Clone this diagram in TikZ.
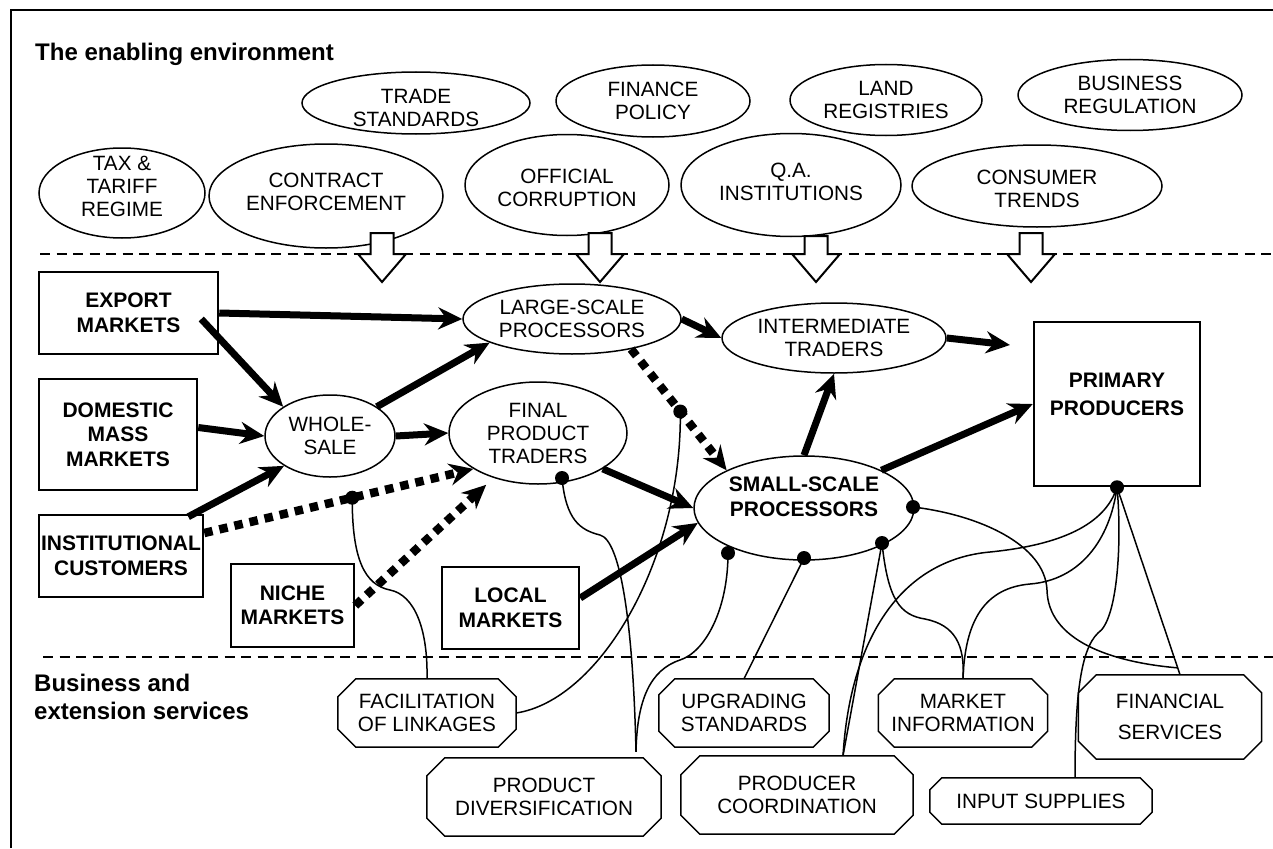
\documentclass[tikz,border=0pt]{standalone}
\usepackage{fontspec}
\setmainfont{Liberation Sans}
\usetikzlibrary{shapes.geometric, arrows.meta}
\newcommand\regfont{\fontsize{20.7}{23}\selectfont}
\newcommand\bldfont{\fontsize{21}{24.5}\selectfont\bfseries}
\newcommand\ttlfont{\fontsize{24}{28}\selectfont\bfseries}
% octagonal service box: [extra style]{name}{x}{y}{w}{h}{chamfer}{text}
\newcommand\svcbox[8][]{%
  \node[svc, minimum width=#5pt, minimum height=#6pt, #1] (#2) at (#3,#4) {#8};
  \draw[svcline] ([xshift=#7pt]#2.north west) -- ([xshift=-#7pt]#2.north east)
     -- ([yshift=-#7pt]#2.north east) -- ([yshift=#7pt]#2.south east)
     -- ([xshift=-#7pt]#2.south east) -- ([xshift=#7pt]#2.south west)
     -- ([yshift=#7pt]#2.south west) -- ([yshift=-#7pt]#2.north west) -- cycle;}
% hollow block arrow: {x}{top}
\newcommand\blockarr[2]{%
  \draw[blockarrow] (#1-11.5,#2) -- (#1-11.5,254) -- (#1-24,254) -- (#1,282)
     -- (#1+24,254) -- (#1+11.5,254) -- (#1+11.5,#2) -- cycle;}
\tikzset{
  ell/.style={ellipse, draw, line width=1.5pt, inner sep=0pt, align=center, font=\regfont},
  mbox/.style={rectangle, draw, line width=2.5pt, inner sep=0pt, align=center, font=\bldfont},
  svc/.style={rectangle, inner sep=0pt, align=center, font=\regfont},
  svcline/.style={line width=1.5pt, line join=miter},
  lbl/.style={inner sep=0pt, align=center, font=\regfont},
  blbl/.style={inner sep=0pt, align=center, font=\bldfont},
  thickarr/.style={line width=7pt, -{Stealth[length=24pt, width=22pt, inset=8pt]}},
  dotarr/.style={line width=8.5pt, dash pattern=on 8.5pt off 7pt, -{Stealth[length=24pt, width=22pt, inset=8pt]}},
  thinline/.style={line width=1.5pt},
  dotn/.style={circle, fill=black, draw=none, inner sep=0pt, minimum size=14pt},
  dashline/.style={line width=2pt, dash pattern=on 10pt off 6.5pt},
  frameline/.style={line width=2.2pt},
  blockarrow/.style={line width=2pt, fill=white, line join=miter},
  ttl/.style={inner sep=0pt, font=\ttlfont, align=left},
}
\begin{document}
\begin{tikzpicture}[x=1pt, y=-1pt]
\useasboundingbox (0,0) rectangle (1273,848);
\fill[white] (0,0) rectangle (1273,848);

% frame
\draw[frameline] (11,848) -- (11,10) -- (1273,10);

% section labels
\node[ttl, anchor=base west] (title) at (35,61) {The enabling environment};
\node[ttl, anchor=north west] (bizlabel) at (34,674) {Business and\\extension services};

% dashed separators
\draw[dashline] (40,254) -- (1273,254);
\draw[dashline] (43,657) -- (1273,657);

% enabling environment ellipses
\node[ell, minimum width=166pt, minimum height=90pt,
      label={[lbl, yshift=7pt]center:{TAX \&\\TARIFF\\REGIME}}] (tax) at (122,193) {};
\node[ell, minimum width=234pt, minimum height=104pt,
      label={[lbl, yshift=4pt]center:{CONTRACT\\ENFORCEMENT}}] (contract) at (326,196) {};
\node[ell, minimum width=228pt, minimum height=62pt,
      label={[lbl, yshift=-5pt]center:{TRADE\\STANDARDS}}] (trade) at (416,103) {};
\node[ell, minimum width=204pt, minimum height=101pt,
      label={[lbl, yshift=-3pt]center:{OFFICIAL\\CORRUPTION}}] (official) at (567,185) {};
\node[ell, minimum width=194pt, minimum height=72pt] (finance) at (653,101) {FINANCE\\POLICY};
\node[ell, minimum width=192pt, minimum height=71pt] (land) at (886,100) {LAND\\REGISTRIES};
\node[ell, minimum width=224pt, minimum height=71pt] (business) at (1130,95) {BUSINESS\\REGULATION};
\node[ell, minimum width=220pt, minimum height=103pt,
      label={[lbl, yshift=3pt]center:{Q.A.\\INSTITUTIONS}}] (qa) at (791,185) {};
\node[ell, minimum width=250pt, minimum height=82pt,
      label={[lbl, yshift=-3pt]center:{CONSUMER\\TRENDS}}] (consumer) at (1037,186) {};

% influence block arrows
\blockarr{382}{233}
\blockarr{600}{233}
\blockarr{816}{236}
\blockarr{1031}{233}

% market boxes
\node[mbox, minimum width=179pt, minimum height=82pt] (export) at (128.5,313) {EXPORT\\MARKETS};
\node[mbox, minimum width=158pt, minimum height=111pt] (domestic) at (118,434.5) {DOMESTIC\\MASS\\MARKETS};
\node[mbox, minimum width=164pt, minimum height=82pt] (inst) at (121,556) {INSTITUTIONAL\\CUSTOMERS};
\node[mbox, minimum width=123pt, minimum height=83pt] (niche) at (292.5,605.5) {NICHE\\MARKETS};
\node[mbox, minimum width=137pt, minimum height=82pt] (local) at (510.5,608) {LOCAL\\MARKETS};
\node[mbox, minimum width=166pt, minimum height=164pt,
      label={[blbl, font={\fontsize{21}{28}\selectfont\bfseries}, yshift=10pt]center:{PRIMARY\\PRODUCERS}}] (prim) at (1117,404) {};

% chain actors
\node[ell, minimum width=218pt, minimum height=70pt] (large) at (572,319) {LARGE-SCALE\\PROCESSORS};
\node[ell, minimum width=130pt, minimum height=82pt] (whole) at (330,436) {WHOLE-\\SALE};
\node[ell, minimum width=178pt, minimum height=102pt] (final) at (538,433) {FINAL\\PRODUCT\\TRADERS};
\node[ell, minimum width=224pt, minimum height=70pt] (inter) at (834,338) {INTERMEDIATE\\TRADERS};
\node[ell, minimum width=220pt, minimum height=104pt,
      label={[blbl, yshift=11pt]center:{SMALL-SCALE\\PROCESSORS}}] (small) at (804,508) {};

% service boxes
\svcbox{fac}{427}{713}{178}{68}{18}{FACILITATION\\OF LINKAGES}
\svcbox{prod}{544}{797}{234}{78}{18}{PRODUCT\\DIVERSIFICATION}
\svcbox{upg}{744}{713}{170}{68}{16}{UPGRADING\\STANDARDS}
\svcbox{prodc}{797}{795}{232}{78}{19}{PRODUCER\\COORDINATION}
\svcbox{mkt}{963}{713}{169}{68}{16}{MARKET\\INFORMATION}
\svcbox[font={\fontsize{20.7}{31}\selectfont}]{fin}{1170}{717}{183}{84}{18}{FINANCIAL\\SERVICES}
\svcbox{inp}{1041}{801}{222}{46}{12}{INPUT SUPPLIES}

% free end of the intermediate -> primary arrow
\coordinate (ipend) at (1010,345);

% dotted (weak) links
\draw[dotarr] (large.-27) -- (small.154) node[dotn, pos=0.515] (dc) {};
\draw[dotarr] ([shift={(0,-23)}]inst.east) -- (final.209) node[dotn, pos=0.55] (da) {};
\draw[dotarr] (niche.east) -- ([shift={(-7,7)}]final.225);

% attachment dots
\node[dotn] (fd) at ([shift={(24,45)}]final.center) {};
\node[dotn] (s1) at ([shift={(-76,45)}]small.center) {};
\node[dotn] (s2) at ([shift={(0,50)}]small.center) {};
\node[dotn] (s3) at ([shift={(78,35)}]small.center) {};
\node[dotn] (s4) at ([shift={(109,-1)}]small.center) {};
\node[dotn] (pd) at (prim.south) {};

% service connections (thin)
\draw[thinline] (da.center) .. controls (352,560) and (365,585) .. (390,590)
   .. controls (415,595) and (428,630) .. (fac.north);
\draw[thinline] (dc.center) .. controls (682,560) and (600,700) .. (fac.east);
\draw[thinline] (fd.center) .. controls (566,520) and (580,530) .. (600,535)
   .. controls (620,540) and (633,620) .. ([shift={(92,-6)}]prod.north);
\draw[thinline] (s1.center) .. controls (728,610) and (705,652) .. (680,660)
   .. controls (650,670) and (637,700) .. ([shift={(92,-6)}]prod.north);
\draw[thinline] (s2.center) -- (upg.north);
\draw[thinline] (s3.center) -- ([xshift=46pt]prodc.north);
\draw[thinline] (s3.center) .. controls (888,600) and (900,615) .. (925,619)
   .. controls (955,625) and (965,645) .. (mkt.north);
\draw[thinline] (s4.center) .. controls (980,515) and (1045,545) .. (1047,590)
   .. controls (1048,640) and (1110,662) .. ([shift={(7,-7)}]fin.north);
\draw[thinline] (pd.center) -- ([xshift=10pt]fin.north);
\draw[thinline] (pd.center) .. controls (1105,525) and (1060,545) .. (990,552)
   .. controls (900,560) and (850,640) .. ([xshift=46pt]prodc.north);
\draw[thinline] (pd.center) .. controls (1110,540) and (1080,580) .. (1030,584)
   .. controls (985,588) and (965,620) .. (mkt.north);
\draw[thinline] (pd.center) .. controls (1122,540) and (1118,620) .. (1098,633)
   .. controls (1080,650) and (1075,700) .. ([xshift=34pt]inp.north);

% strong links (thick arrows)
\draw[thickarr] (export.east) -- (large.west);
\draw[thickarr] ([shift={(-18,6)}]export.east) -- (whole.148);
\draw[thickarr] ([shift={(0,-7)}]domestic.east) -- (whole.west);
\draw[thickarr] ([shift={(-16,3)}]inst.north east) -- (whole.213);
\draw[thickarr] (whole.32) -- (large.196);
\draw[thickarr] (whole.east) -- (final.west);
\draw[thickarr] (final.-29) -- (small.west);
\draw[thickarr] ([shift={(0,-10)}]local.east) -- (small.188);
\draw[thickarr] (large.east) -- (inter.west);
\draw[thickarr] (inter.east) -- (ipend);
\draw[thickarr] (small.north) -- (inter.south);
\draw[thickarr] (small.26) -- (prim.west);
\end{tikzpicture}
\end{document}
